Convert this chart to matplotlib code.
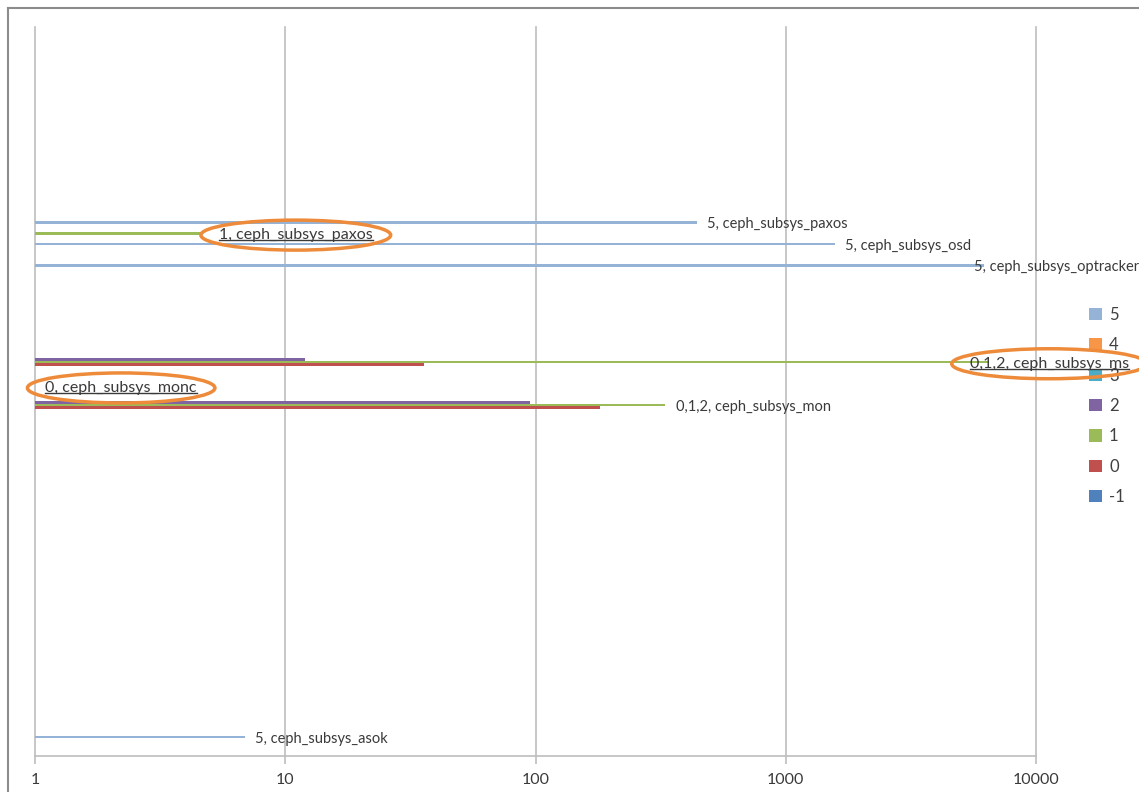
import matplotlib
matplotlib.use("Agg")
import matplotlib.pyplot as plt
from matplotlib.patches import Patch, Ellipse
from matplotlib.lines import Line2D
from matplotlib.ticker import FixedLocator, FixedFormatter, NullLocator
import numpy as np

plt.rcParams['font.family'] = ['Lato', 'DejaVu Sans']

# Ceph subsystems, bottom to top (alphabetical)
categories = [
    "asok", "auth", "buffer", "client", "context", "crush", "crypto", "filer",
    "filestore", "finisher", "heartbeatmap", "journal", "journaler",
    "keyvaluestore", "lockdep", "mds", "mon", "monc", "ms", "objclass",
    "objectcacher", "objecter", "optracker", "osd", "paxos", "perfcounter",
    "rados", "rbd", "refs", "rgw", "striper", "throttle", "timer", "tp",
]

# Debug levels (series), first series drawn at the bottom of each cluster
levels = ["-1", "0", "1", "2", "3", "4", "5"]
level_colors = {
    "-1": "#4F81BD", "0": "#C0504D", "1": "#9BBB59", "2": "#8064A2",
    "3": "#4BACC6", "4": "#F79646", "5": "#95B3D7",
}

# Counts per subsystem for each debug level
level_5 = {"asok": 6.9, "optracker": 6200, "osd": 1570, "paxos": 440}
level_2 = {"mon": 95, "ms": 12}
level_1 = {"mon": 330, "ms": 6500, "paxos": 4.6}
level_0 = {"mon": 181, "monc": 1, "ms": 36}
level_values = {"5": level_5, "2": level_2, "1": level_1, "0": level_0}

# Data labels: (level, subsystem, text, highlighted)
labels = [
    ("5", "paxos", "5, ceph_subsys_paxos", False),
    ("5", "osd", "5, ceph_subsys_osd", False),
    ("5", "optracker", "5, ceph_subsys_optracker", False),
    ("5", "asok", "5, ceph_subsys_asok", False),
    ("1", "mon", "0,1,2, ceph_subsys_mon", False),
    ("1", "ms", "0,1,2, ceph_subsys_ms", True),
    ("1", "paxos", "1, ceph_subsys_paxos", True),
    ("0", "monc", "0, ceph_subsys_monc", True),
]

x_ticks = [1, 10, 100, 1000, 10000]
x_tick_labels = ["1", "10", "100", "1000", "10000"]

W, H = 1139, 792
fig = plt.figure(figsize=(W / 100, H / 100), dpi=100)
fig.patch.set_facecolor("white")
ax = fig.add_axes([35 / W, 36 / H, (1036 - 35) / W, (756 - 27) / H])
ax.set_xscale("log")
ax.set_xlim(1, 10000)
ax.set_ylim(-0.5, len(categories) - 0.5)

slot = 1 / 7.8
bar_h = 0.125
cat_index = {c: i for i, c in enumerate(categories)}

def bar_y(level, cat):
    return cat_index[cat] + (levels.index(level) - 3) * slot

for lev in levels:
    vals = level_values.get(lev, {})
    if not vals:
        continue
    ys = [bar_y(lev, c) for c in vals]
    v = np.array(list(vals.values()), dtype=float)
    ax.barh(ys, v - 1, left=1, height=bar_h, color=level_colors[lev],
            linewidth=0, zorder=3)

# grid and axis styling
ax.xaxis.set_major_locator(FixedLocator(x_ticks))
ax.xaxis.set_major_formatter(FixedFormatter(x_tick_labels))
ax.xaxis.set_minor_locator(NullLocator())
ax.set_yticks([])
for s in ("left", "right", "top"):
    ax.spines[s].set_visible(False)
ax.spines["bottom"].set_color("#BEBEBE")
ax.spines["bottom"].set_linewidth(1.2)
ax.tick_params(axis="x", length=6, width=1.2, color="#BEBEBE", pad=6,
               labelsize=11.5, labelcolor="#3A3A3A")
ax.grid(axis="x", color="#BEBEBE", linewidth=1.2, zorder=0)
for gl in ax.get_xgridlines():
    gl.set_clip_on(False)

# data labels
texts = []
for lev, cat, txt, hl in labels:
    x = level_values[lev][cat]
    y = bar_y(lev, cat)
    if cat == "optracker":
        dx = -7.5
    elif cat == "ms":
        dx = -14
    elif hl and cat == "paxos":
        dx = 13
    else:
        dx = 7.5
    t = ax.annotate(txt, xy=(x, y), xytext=(dx, -1.2), textcoords="offset points",
                    va="center", ha="left",
                    fontsize=11.5 if hl else 10.5,
                    color="#3A3A3A", zorder=5, annotation_clip=False)
    texts.append((t, hl))

# legend
handles = [Patch(facecolor=level_colors[l], edgecolor="none", label=l)
           for l in reversed(levels)]
leg = fig.legend(handles=handles, loc="upper left",
                 bbox_to_anchor=(1074 / W, 1 - 292 / H), frameon=False,
                 fontsize=12, handlelength=0.75, handleheight=0.75,
                 handletextpad=0.45, labelspacing=0.86, labelcolor="#404040")

# outer chart frame
frame_kw = dict(color="#8C8C8C", linewidth=1.5, transform=fig.transFigure)
fig.add_artist(Line2D([8 / W, 1], [1 - 8 / H, 1 - 8 / H], **frame_kw))
fig.add_artist(Line2D([8 / W, 8 / W], [0, 1 - 8 / H], **frame_kw))

# highlight marks: underline and ellipse around selected labels
fig.canvas.draw()
inv = fig.transFigure.inverted()
for t, hl in texts:
    if not hl:
        continue
    bb = t.get_window_extent()
    (x0, y0), (x1, y1) = inv.transform([(bb.x0, bb.y0 + 2), (bb.x1, bb.y1)])
    fig.add_artist(Line2D([x0, x1], [y0, y0], color="#3A3A3A", linewidth=1.0,
                          transform=fig.transFigure, zorder=6))
    cx, cy = (bb.x0 + bb.x1) / 2, (bb.y0 + bb.y1) / 2
    e = Ellipse((cx / W, cy / H), (bb.width + 36) / W, 30 / H,
                transform=fig.transFigure, fill=False, edgecolor="#EE8B3A",
                linewidth=2.5, zorder=7)
    fig.add_artist(e)

fig.savefig("out.png", dpi=100, facecolor="white")
